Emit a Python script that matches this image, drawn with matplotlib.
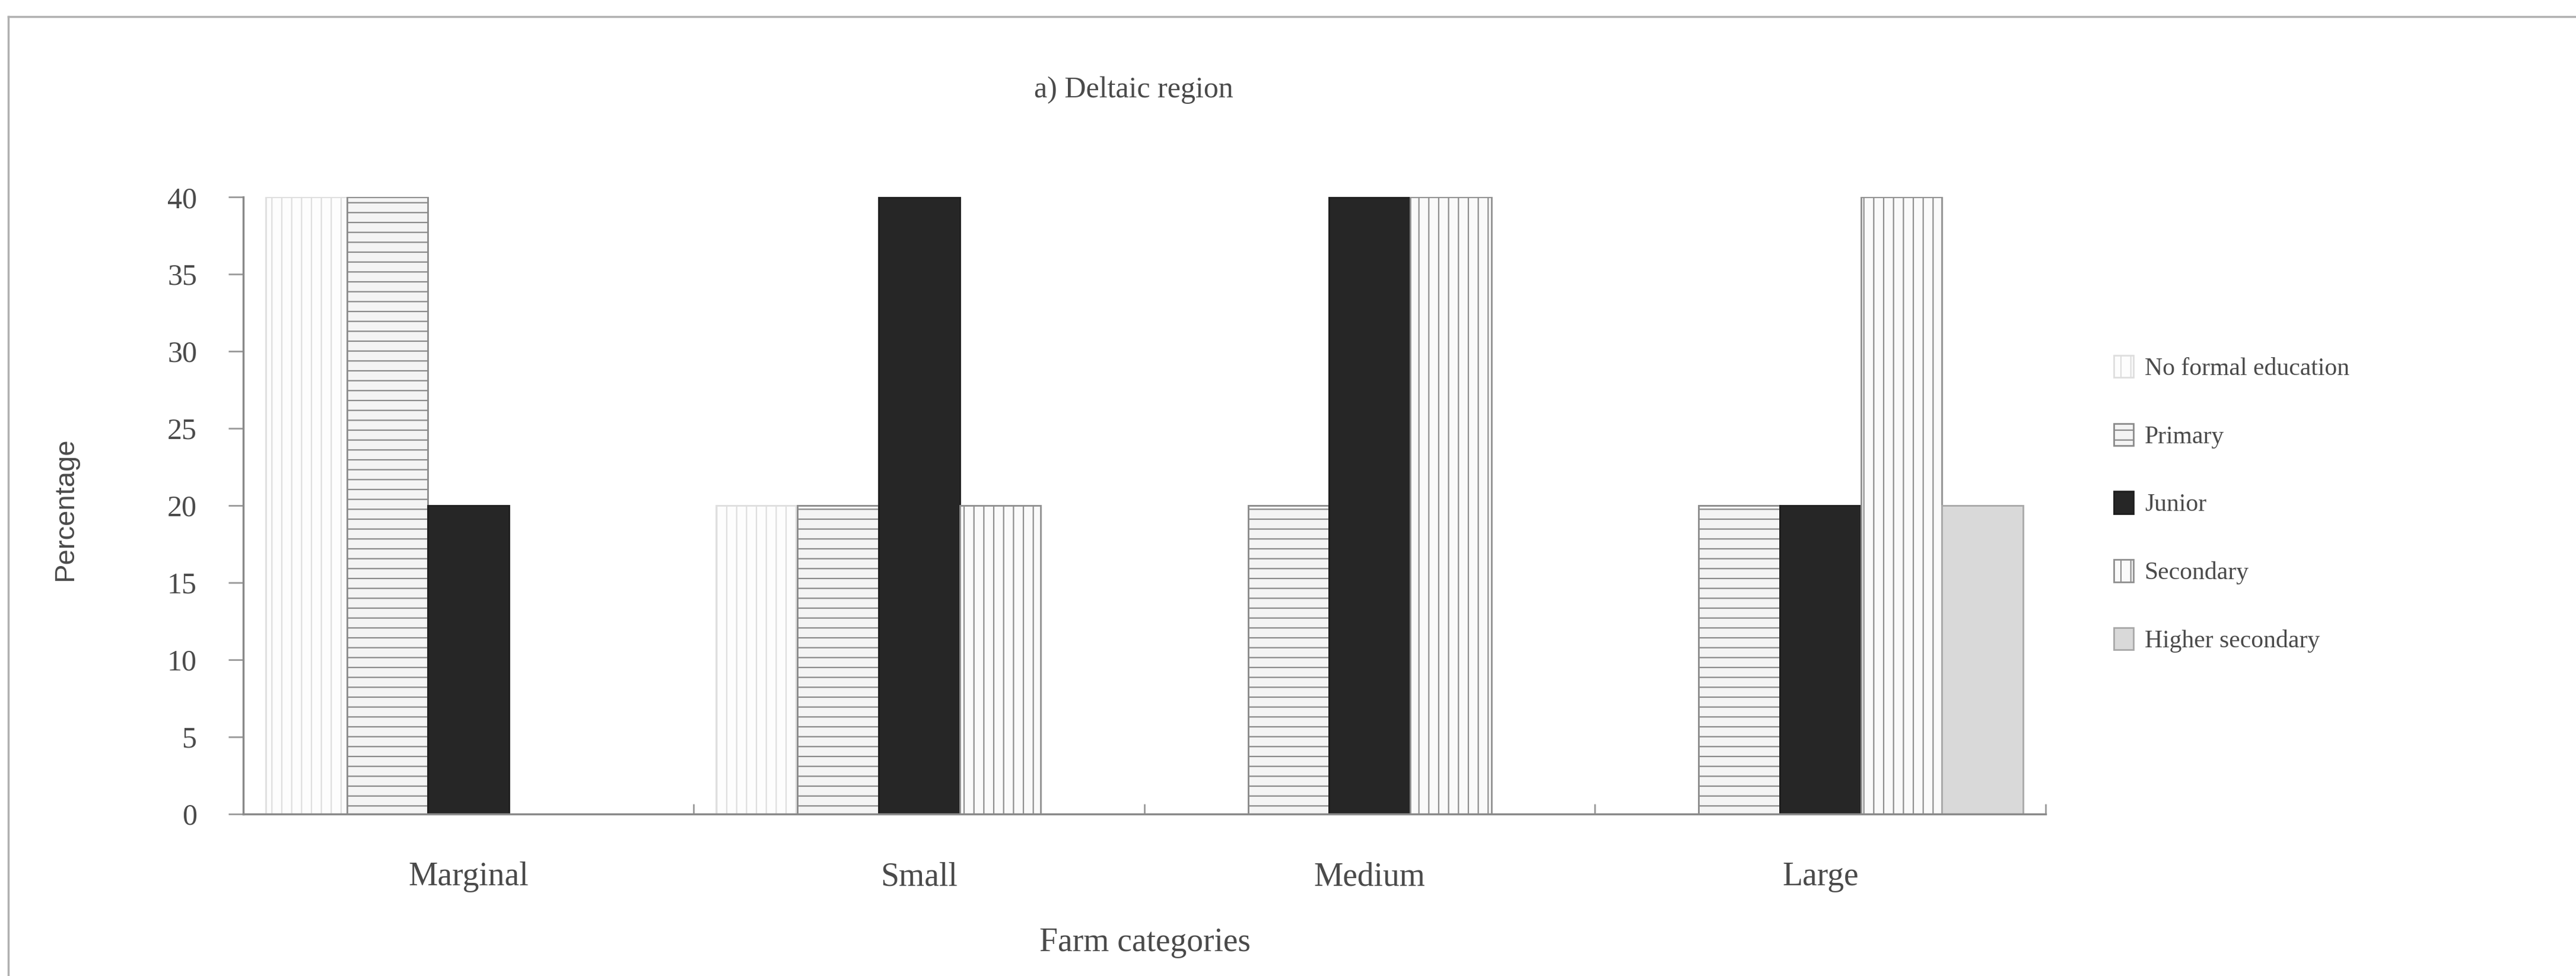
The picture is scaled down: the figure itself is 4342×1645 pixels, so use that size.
import numpy as np
import matplotlib
matplotlib.use("Agg")
import matplotlib.pyplot as plt
from matplotlib.lines import Line2D

# Share of farmers (%) by education level within each farm category
categories = ["Marginal", "Small", "Medium", "Large"]
series_names = ["No formal education", "Primary", "Junior", "Secondary", "Higher secondary"]
no_formal = [40, 20, 0, 0]
primary = [40, 20, 20, 20]
junior = [20, 40, 40, 20]
secondary = [0, 20, 40, 40]
higher_secondary = [0, 0, 0, 20]
y_ticks = [0, 5, 10, 15, 20, 25, 30, 35, 40]

series = [no_formal, primary, junior, secondary, higher_secondary]
styles = [
    dict(facecolor="#fdfdfd", edgecolor="#dedede", hatch="|"),
    dict(facecolor="#f4f4f4", edgecolor="#8a8a8a", hatch="-"),
    dict(facecolor="#262626", edgecolor="#1e1e1e", hatch=None),
    dict(facecolor="#fafafa", edgecolor="#8f8f8f", hatch="|"),
    dict(facecolor="#d9d9d9", edgecolor="#a8a8a8", hatch=None),
]

plt.rcParams["hatch.linewidth"] = 1.6
serif = ["Liberation Serif", "DejaVu Serif"]
text_color = "#4a4a4a"

fig = plt.figure(figsize=(43.42, 16.45), dpi=100)
ax = fig.add_axes([0.0944, 0.166, 0.6997, 0.632])

x = np.arange(len(categories))
width = 0.18
for i, (vals, name, st) in enumerate(zip(series, series_names, styles)):
    offs = (i - 2) * width
    ax.bar(x + offs, vals, width, label=name, linewidth=2.0, **st)

ax.set_xlim(-0.5, len(categories) - 0.5)
ax.set_ylim(0, 40)
ax.set_yticks(y_ticks)
ax.set_yticklabels([str(t) for t in y_ticks], fontfamily=serif, fontsize=36, color=text_color)
ax.set_xticks(x)
ax.set_xticklabels(categories, fontfamily=serif, fontsize=40, color=text_color)
ax.set_xticks(np.arange(-0.5, len(categories)), minor=True)

ax.tick_params(axis="y", direction="out", length=18, width=2, color="#9a9a9a", pad=38)
ax.tick_params(axis="x", which="major", length=0, pad=58)
ax.tick_params(axis="x", which="minor", direction="in", length=12, width=2, color="#9a9a9a")

for side in ("top", "right"):
    ax.spines[side].set_visible(False)
for side in ("left", "bottom"):
    ax.spines[side].set_color("#8a8a8a")
    ax.spines[side].set_linewidth(2.5)

# Panel title, axis titles
fig.text(0.44, 0.9076, "a) Deltaic region", fontfamily=serif, fontsize=36,
         color=text_color, ha="center", va="center")
fig.text(0.4445, 0.034, "Farm categories", fontfamily=serif, fontsize=40,
         color=text_color, ha="center", va="center")
fig.text(0.0253, 0.478, "Percentage", fontfamily=["Liberation Sans Narrow", "Liberation Sans"],
         fontsize=34, color=text_color, ha="center", va="center", rotation=90)

leg = fig.legend(loc="upper left", bbox_to_anchor=(0.8205, 0.636), frameon=False,
                 prop={"family": serif, "size": 30}, labelcolor=text_color,
                 handlelength=0.8, handleheight=1.0, handletextpad=0.45,
                 labelspacing=1.75, borderpad=0, borderaxespad=0)

# Outer frame around the panel
frame_kw = dict(color="#b0b0b0", linewidth=2.5, transform=fig.transFigure)
fig.add_artist(Line2D([0.0032, 1.0], [0.983, 0.983], **frame_kw))
fig.add_artist(Line2D([0.0032, 0.0032], [0.0, 0.983], **frame_kw))

fig.savefig("out.png", dpi=100, facecolor="white")
